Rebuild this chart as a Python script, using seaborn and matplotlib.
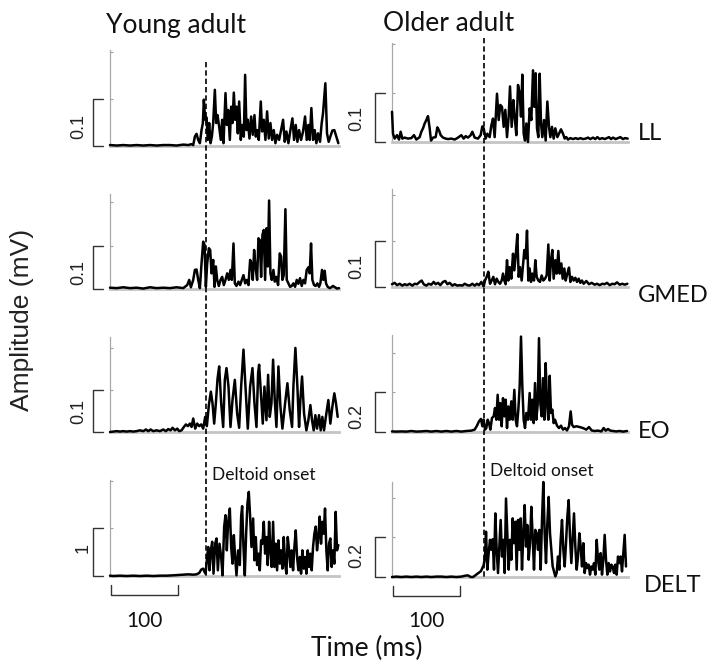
import matplotlib
matplotlib.use("Agg")
import matplotlib.pyplot as plt
import matplotlib.transforms as mtrans
from matplotlib.lines import Line2D
import pandas as pd
import seaborn as sns

# ---------------- data (time in ms, amplitude in mV) ----------------
groups = ["Young adult", "Older adult"]
muscles = ["LL", "GMED", "EO", "DELT"]
onset_ms = [143.5, 137.5]          # deltoid onset per group
time_bar_ms = 100
scale_values = [[0.1, 0.1], [0.1, 0.1], [0.1, 0.2], [1, 0.2]]
scale_labels = [["0.1", "0.1"], ["0.1", "0.1"], ["0.1", "0.2"], ["1", "0.2"]]
tick_step = [[0.1, 0.1], [0.1, 0.1], [0.1, 0.2], [1, 0.2]]
time_max = [344, 354]
amp_max = [[0.205, 0.203], [0.219, 0.212], [0.226, 0.49], [2.02, 0.478]]

young_LL = [(0,0.002),(10,0.001),(20,0.002),(30,0.001),(40,0.002),(50,0.001),(60,0.002),(70,0.001),(80,0.002),(90,0.002),(100,0.001),(110,0.003),(118,0.002),(122,0.004),(125,0.002),
    (127.5,0.020),(130,0.026),(132.5,0.013),(135,0.006),(137.5,0.034),(139.5,0.049),(141,0.099),(143,0.056),(145,0.061),(147,0.013),
    (149,0.049),(151,0.006),(153,0.020),(155,0.049),(157.5,0.120),(159.5,0.049),(161.5,0.066),(164,0.041),(166.5,0.013),(168.5,0.056),
    (170.5,0.006),(173.5,0.113),(175.5,0.045),(177.5,0.077),(180,0.013),(182,0.084),(184,0.049),(186,0.114),(188,0.056),(190,0.084),
    (192,0.027),(194,0.095),(196.5,0.013),(198.5,0.045),(201,0.020),(203,0.152),(205,0.034),(207,0.056),(209.5,0.016),(212,0.063),
    (214.5,0.024),(217,0.066),(219,0.020),(221,0.034),(223.5,0.013),(226.5,0.095),(228.5,0.031),(231,0.056),(233.5,0.013),(236,0.074),
    (238.5,0.016),(241,0.049),(243.5,0.013),(246,0.034),(248.5,0.006),(251,0.024),(254,0.013),(257,0.034),(260,0.056),(262.5,0.009),
    (265,0.031),(268,0.006),(271,0.034),(274,0.059),(276.5,0.013),(279,0.045),(281.5,0.009),(284,0.034),(287,0.013),(290,0.031),
    (293,0.063),(295.5,0.013),(298,0.045),(300,0.013),(302.5,0.081),(305,0.013),(307.5,0.034),(310,0.006),(312.5,0.027),(315.5,0.009),
    (318,0.049),(320,0.070),(323.5,0.134),(326,0.027),(328.5,0.009),(331,0.020),(334,0.033),(337,0.034),(340,0.020),(343,0.006)]

older_LL = [(0,0.062),(1.5,0.017),(4,0.007),(7.5,0.014),(10.5,0.005),(13,0.021),(15.5,0.007),(19,0.009),(24,0.007),(29,0.008),
    (33,0.014),(36.5,0.005),(41.5,0.010),(44,0.021),(46.5,0.028),(49,0.038),(51.5,0.045),(54,0.053),(56.5,0.028),(58.5,0.003),
    (61.5,0.009),(65.5,0.010),(68,0.030),(70.5,0.024),(73,0.014),(76.5,0.009),(80.5,0.007),(84,0.006),(89,0.007),(94,0.005),
    (99,0.009),(104,0.014),(107.5,0.007),(110.5,0.012),(114,0.009),(118,0.014),(120.5,0.021),(124,0.009),(129,0.007),(133,0.014),
    (135.5,0.032),(137.5,0.028),(140.5,0.007),(143,0.017),(146.5,0.010),(149,0.034),(151.5,0.048),(154,0.010),(157.5,0.099),(160,0.045),
    (162.5,0.076),(165,0.072),(167.5,0.031),(170,0.066),(172.5,0.010),(175,0.052),(177,0.114),(179.5,0.031),(182,0.086),(184,0.052),
    (186.5,0.014),(189,0.117),(191.5,0.100),(193.5,0.052),(195.5,0.138),(197.5,0.017),(199.5,0.003),(201.5,0.038),(204,0.0),(206.5,0.069),
    (209,0.045),(211.5,0.147),(213.5,0.072),(215.5,0.141),(217.5,0.028),(219.5,0.010),(221.5,0.140),(223.5,0.038),(225.5,0.010),(228,0.045),
    (230.5,0.003),(233,0.083),(235.5,0.031),(237.5,0.010),(240,0.031),(242.5,0.007),(245,0.028),(248,0.010),(250.5,0.017),(253.5,0.026),
    (256.5,0.017),(259,0.007),(261.5,0.010),(264,0.005),(267.5,0.008),(271.5,0.006),(275.5,0.008),(279,0.006),(282.5,0.008),(286.5,0.006),
    (290.5,0.007),(294,0.009),(297.5,0.006),(301.5,0.009),(305,0.006),(308,0.010),(311.5,0.006),(315.5,0.008),(319,0.006),(322.5,0.008),
    (325.5,0.010),(328.5,0.006),(331.5,0.009),(335.5,0.006),(339,0.008),(342.5,0.010),(346.5,0.006),(349.5,0.008),(353.5,0.007)]

young_GMED = [(0,0.003),(10,0.002),(20,0.004),(30,0.002),(40,0.003),(50,0.001),(60,0.004),(70,0.002),(80,0.003),(90,0.002),(100,0.004),(110,0.002),
    (112.5,0.005),(116,0.009),(119,0.021),(121.5,0.004),(125,0.021),(127.5,0.044),(130,0.045),(132.5,0.021),(135,0.002),(137.5,0.059),
    (140,0.109),(142,0.102),(144,0.005),(146,0.059),(148.5,0.094),(150.5,0.090),(152.5,0.036),(155,0.067),(157,0.005),(159,0.052),
    (161,0.021),(163.5,0.007),(166,0.021),(168.5,0.028),(171,0.009),(173.5,0.021),(176,0.036),(178.5,0.021),(181,0.044),(183,0.021),
    (185.5,0.105),(187.5,0.013),(190,0.007),(193,0.017),(195.5,0.009),(198,0.021),(200.5,0.032),(203,0.013),(205.5,0.021),(208,0.009),
    (210.5,0.067),(212.5,0.059),(214.5,0.021),(216.5,0.090),(218.5,0.052),(221,0.021),(223,0.117),(225,0.113),(227,0.028),(229,0.125),
    (231,0.136),(233,0.021),(235,0.140),(237,0.052),(239,0.204),(241,0.036),(243,0.021),(245.5,0.044),(247.5,0.017),(250,0.028),
    (252.5,0.009),(255,0.082),(257,0.075),(259,0.021),(261,0.032),(263.5,0.184),(265.5,0.021),(268,0.013),(270.5,0.005),(273,0.007),
    (275.5,0.013),(278,0.005),(280.5,0.021),(283,0.012),(285.5,0.025),(288,0.007),(290.5,0.021),(293,0.013),(295.5,0.044),(298,0.050),
    (300,0.036),(302,0.105),(304,0.021),(306.5,0.009),(309,0.007),(311.5,0.013),(314,0.005),(316,0.013),(318.5,0.044),(320.5,0.021),
    (322.5,0.042),(324.5,0.013),(327,0.005),(330,0.002),(332.5,0.004),(335,0.007),(338,0.004),(341,0.001),(344,0.002)]

older_GMED = [(0,0.006),(4,0.009),(7.5,0.004),(11.5,0.007),(15.5,0.003),(19,0.006),(22.5,0.004),(26.5,0.007),(30.5,0.003),(34,0.007),
    (37.5,0.006),(41.5,0.011),(44.5,0.014),(47.5,0.006),(51.5,0.003),(55,0.007),(59,0.005),(62.5,0.011),(65.5,0.006),(69,0.009),
    (72.5,0.004),(76.5,0.011),(80,0.013),(83,0.006),(86.5,0.009),(90.5,0.003),(94,0.006),(98,0.003),(101.5,0.004),(105.5,0.003),
    (109,0.007),(113,0.004),(116.5,0.003),(120.5,0.007),(124,0.003),(127.5,0.007),(130.5,0.004),(134,0.011),(137.5,0.001),(139.5,0.014),
    (142,0.022),(144.5,0.033),(147,0.007),(149.5,0.014),(152,0.022),(154.5,0.006),(157,0.018),(159.5,0.011),(162,0.007),(164.5,0.014),
    (166.5,0.029),(168.5,0.014),(170.5,0.006),(172.5,0.058),(174.5,0.014),(176.5,0.043),(179,0.018),(181.5,0.072),(183.5,0.036),(186,0.076),
    (188,0.114),(190,0.022),(192,0.043),(194.5,0.014),(196.5,0.047),(198.5,0.080),(200.5,0.062),(202.5,0.122),(204.5,0.014),(206.5,0.040),
    (208.5,0.011),(210.5,0.029),(213,0.014),(215,0.058),(217,0.022),(219.5,0.014),(222,0.011),(224.5,0.025),(227,0.014),(229.5,0.018),
    (232,0.025),(234.5,0.092),(236.5,0.014),(238.5,0.058),(240.5,0.080),(242.5,0.018),(245,0.058),(247,0.029),(249.5,0.078),(251.5,0.029),
    (254,0.051),(256,0.018),(258.5,0.040),(260.5,0.014),(263,0.029),(265.5,0.042),(267.5,0.011),(270,0.022),(272.5,0.014),(275,0.020),
    (277.5,0.011),(280,0.018),(282.5,0.009),(285,0.014),(287.5,0.007),(291.5,0.013),(295.5,0.006),(299.5,0.009),(304,0.005),(307.5,0.007),
    (311.5,0.004),(315.5,0.007),(319,0.006),(322.5,0.009),(326.5,0.004),(330.5,0.007),(334,0.006),(337.5,0.010),(341.5,0.005),(345.5,0.007),
    (349,0.005),(353,0.007)]

young_EO = [(0,0.0),(5,0.001),(10,0.002),(15,0.001),(20,0.002),(25,0.001),(30,0.002),(35,0.001),(40,0.002),(45,0.004),
    (50,0.002),(54,0.006),(57.5,0.002),(61,0.006),(65,0.002),(70,0.004),(75,0.002),(80,0.006),(84,0.002),(87.5,0.007),
    (91,0.004),(94,0.010),(97.5,0.004),(101,0.008),(104,0.002),(107.5,0.004),(111,0.012),(114,0.018),(117,0.014),(120,0.020),
    (122.5,0.012),(125,0.032),(128,0.008),(131,0.020),(134,0.014),(137,0.018),(140,0.008),(143,0.036),(145.5,0.014),(148.5,0.064),
    (151.5,0.096),(154,0.068),(156.5,0.020),(159,0.068),(161.5,0.126),(164,0.156),(167,0.068),(170,0.012),(172.5,0.124),(175,0.152),
    (178,0.108),(181,0.012),(184,0.076),(187.5,0.124),(191,0.044),(194,0.010),(197,0.108),(200.5,0.196),(203.5,0.108),(207,0.008),
    (210.5,0.108),(214,0.152),(217,0.068),(220,0.012),(222.5,0.140),(224,0.160),(227,0.084),(229.5,0.020),(232,0.108),(235,0.028),
    (237.5,0.136),(240,0.036),(242.5,0.068),(245,0.172),(247.5,0.076),(250,0.012),(253,0.156),(256,0.060),(259,0.008),(263,0.068),
    (266.5,0.116),(270,0.052),(273.5,0.012),(275.5,0.108),(278.5,0.200),(281.5,0.108),(284,0.012),(286,0.076),(288.5,0.132),(291.5,0.044),
    (295,0.004),(298,0.028),(301,0.064),(303.5,0.028),(306,0.004),(308.5,0.040),(311,0.008),(314,0.040),(316.5,0.004),(319,0.036),
    (321.5,0.004),(325,0.044),(328,0.076),(331,0.020),(334,0.060),(337,0.092),(339.5,0.068),(342,0.036)]

older_EO = [(0,0.003),(6.5,0.002),(14,0.003),(21.5,0.002),(29,0.005),(36.5,0.002),(44,0.003),(51.5,0.005),(59,0.002),(66.5,0.005),
    (74,0.002),(81.5,0.005),(89,0.002),(96.5,0.005),(104,0.002),(111.5,0.005),(119,0.007),(124,0.012),(127.5,0.032),(130.5,0.054),
    (133.5,0.066),(135.5,0.029),(137.5,0.062),(139.5,0.012),(141.5,0.020),(143.5,0.062),(145.5,0.045),(147.5,0.012),(150,0.071),(152.5,0.079),
    (154.5,0.121),(156.5,0.062),(158.5,0.188),(160.5,0.062),(162.5,0.146),(164.5,0.029),(166.5,0.171),(168.5,0.079),(170.5,0.163),(172.5,0.020),
    (174.5,0.129),(176.5,0.062),(179,0.155),(181,0.062),(183.5,0.213),(185.5,0.062),(187.5,0.029),(189.5,0.113),(191.5,0.230),(193.5,0.482),
    (195.5,0.230),(197.5,0.062),(199.5,0.020),(201.5,0.096),(204,0.062),(206.5,0.197),(208.5,0.062),(210.5,0.163),(212.5,0.045),(214.5,0.247),
    (216.5,0.062),(218.5,0.138),(220.5,0.474),(222.5,0.146),(224.5,0.079),(226.5,0.272),(228.5,0.062),(230.5,0.348),(232.5,0.146),(234.5,0.062),
    (236.5,0.284),(238.5,0.096),(240.5,0.113),(242.5,0.045),(244.5,0.062),(247.5,0.032),(250.5,0.020),(253.5,0.032),(256.5,0.012),(259.5,0.020),
    (262.5,0.008),(265.5,0.029),(268,0.104),(270,0.037),(272.5,0.025),(276.5,0.029),(281.5,0.025),(286.5,0.020),(291.5,0.012),(295.5,0.025),
    (299.5,0.008),(304,0.005),(309,0.007),(314,0.003),(317.5,0.020),(320.5,0.007),(324,0.015),(327.5,0.007),(331.5,0.005),(336.5,0.003),
    (341.5,0.005),(346.5,0.002),(352.5,0.005)]

young_DELT = [(0,0.007),(5,0.0),(15,0.007),(25,0.0),(35,0.007),(45,0.0),(55,0.007),(65,0.0),(75,0.007),(85,0.007),
    (95,0.014),(102.5,0.021),(110,0.028),(117.5,0.035),(125,0.028),(130,0.035),(134,0.063),(137,0.134),(140,0.155),(142,0.085),
    (143.5,0.049),(145.5,0.33),(147.5,0.61),(149.5,0.12),(151.5,0.54),(153.5,0.72),(155.5,0.049),(158,0.68),(160,0.79),(162,0.12),
    (164.5,0.68),(167,0.40),(169,0.014),(171.5,1.04),(173.5,1.28),(175.5,0.54),(177.5,1.14),(180,1.42),(182,0.61),(184,0.26),
    (186,0.86),(188,0.40),(190,0.014),(192.5,0.54),(195,0.23),(197,1.25),(198.5,1.47),(200.5,0.61),(202.5,0.014),(204.5,0.89),
    (206.5,1.53),(208.5,1.77),(210.5,1.25),(212.5,0.61),(215,1.21),(217,0.33),(219,0.82),(221,0.23),(223,0.47),(225,0.12),
    (227,0.75),(229,0.68),(231,1.14),(233,0.47),(235,0.82),(237,0.23),(239,1.14),(241,0.54),(243,0.19),(245,1.14),
    (247,0.19),(249,0.68),(251,0.12),(253,0.75),(255,0.26),(257,0.54),(259,0.155),(261,0.82),(263,0.26),(265,0.049),
    (267,0.82),(269,0.54),(271,0.19),(273,0.54),(275,0.12),(277,0.61),(279,0.96),(281,0.40),(283,0.12),(285,0.40),
    (287,0.049),(289,0.54),(291,0.155),(293,0.40),(295,0.049),(297,0.54),(299,0.19),(301,0.47),(303,0.12),(305,0.61),
    (307,0.89),(309,1.04),(311,0.54),(313,0.82),(315,1.25),(317,0.68),(319,1.14),(321,0.89),(323,1.42),(325,0.54),
    (327,0.12),(329,0.68),(331,0.79),(333,0.19),(335,0.54),(337,0.26),(339,1.35),(341,0.54),(343,0.65)]

older_DELT = [(0,0.0),(6.5,0.002),(14,0.0),(21.5,0.002),(29,0.0),(36.5,0.002),(44,0.0),(51.5,0.002),(59,0.0),(66.5,0.002),
    (74,0.002),(81.5,0.0),(89,0.002),(96.5,0.0),(104,0.002),(110.5,0.007),(114,0.008),(118,0.0),(121.5,0.0),(124.5,0.007),
    (127.5,0.015),(130.5,0.022),(133.5,0.030),(135.5,0.045),(137.5,0.060),(139.5,0.100),(141,0.228),(143,0.037),(145,0.120),(147,0.187),
    (149,0.137),(151,0.190),(153,0.037),(155,0.320),(157,0.137),(159,0.020),(161,0.153),(163,0.287),(165,0.103),(167,0.187),
    (169,0.020),(171,0.395),(173,0.220),(175,0.037),(177,0.187),(179,0.087),(181,0.295),(183,0.170),(185,0.278),(187,0.037),
    (189,0.287),(191,0.137),(193,0.295),(195,0.037),(197,0.220),(199,0.362),(201,0.153),(203,0.262),(205,0.087),(207,0.170),
    (209,0.353),(211,0.203),(213,0.037),(215,0.237),(217,0.220),(219,0.137),(221,0.237),(223,0.037),(225,0.287),(227,0.478),
    (229,0.220),(231,0.070),(233,0.270),(235,0.403),(237,0.220),(239,0.137),(241,0.053),(243,0.028),(245,0.003),(247,0.020),
    (249,0.103),(251,0.037),(253,0.187),(255,0.287),(257,0.137),(259,0.053),(261,0.170),(263,0.303),(265,0.387),(267,0.203),
    (269,0.070),(271,0.195),(273,0.320),(275,0.153),(277,0.037),(279,0.103),(281,0.220),(283,0.153),(285,0.053),(287,0.170),
    (289,0.020),(291,0.070),(293,0.045),(295,0.062),(297,0.012),(299,0.053),(301,0.037),(303,0.070),(305,0.012),(307,0.187),
    (309,0.087),(311,0.037),(313,0.120),(315,0.012),(317,0.087),(319,0.212),(321,0.087),(323,0.012),(325,0.070),(327,0.028),
    (329,0.062),(331,0.053),(333,0.020),(335,0.062),(337,0.012),(339,0.103),(341,0.070),(343,0.103),(345,0.028),(347,0.120),
    (349,0.212),(351,0.053)]

traces = [[young_LL, older_LL], [young_GMED, older_GMED], [young_EO, older_EO], [young_DELT, older_DELT]]

# ---------------- layout (pixels) ----------------
W, H = 716, 668
col_left = [110, 392]
col_right = [339, 628]
row_base = [[146, 142], [289, 287], [432, 432], [576, 577]]
row_top = [[50, 43], [194, 189], [337, 335], [480, 482]]
label_pos = [[0.42, 0.48], [0.37, 0.45], [0.48, 0.38], [0.58, 0.55]]
label_dx = [-31, -35]
muscle_y = [133.5, 296, 432, 586]

sns.set_theme(style="white")
plt.rcParams["font.family"] = ["Lato", "DejaVu Sans"]

fig = plt.figure(figsize=(W / 100, H / 100), dpi=100)

def fx(x):
    return x / W

def fy(y):
    return 1 - y / H

axes = {}
for r, muscle in enumerate(muscles):
    for c, grp in enumerate(groups):
        L, R = col_left[c], col_right[c]
        B, T = row_base[r][c], row_top[r][c]
        ax = fig.add_axes([fx(L), fy(B), (R - L) / W, (B - T) / H])
        axes[(r, c)] = ax
        df = pd.DataFrame(traces[r][c], columns=["time", "amp"])
        sns.lineplot(data=df, x="time", y="amp", ax=ax, color="black",
                     linewidth=1.8, estimator=None, sort=False)
        for ln in ax.lines:
            ln.set_clip_on(False)
            ln.set_zorder(3)
        ax.set_xlim(0, time_max[c])
        ax.set_ylim(0, amp_max[r][c])
        ax.set_xlabel("")
        ax.set_ylabel("")
        ax.set_xticks([])
        st = tick_step[r][c]
        ticks = [st * k for k in range(1, 6) if st * k <= amp_max[r][c] * 1.02]
        ax.set_yticks(ticks)
        ax.tick_params(axis="y", direction="in", length=2.5, width=0.8,
                       colors="#a0a0a0", labelleft=False, left=True)
        ax.patch.set_alpha(0)
        for s in ["top", "right"]:
            ax.spines[s].set_visible(False)
        ax.spines["left"].set_color("#a8a8a8")
        ax.spines["left"].set_linewidth(0.9)
        ax.spines["bottom"].set_color("#c4c4c4")
        ax.spines["bottom"].set_linewidth(2.0)
        ax.spines["bottom"].set_zorder(1)
        ax.spines["left"].set_zorder(1)

        # amplitude scale bracket
        wpx = R - L
        tr = mtrans.blended_transform_factory(ax.transAxes, ax.transData)
        sv = scale_values[r][c]
        x0, x1 = -17 / wpx, -7 / wpx
        ax.add_line(Line2D([x1, x0, x0, x1], [sv, sv, 0, 0], transform=tr,
                           color="#333333", lw=1.0, clip_on=False))
        dx = (-27 if scale_labels[r][c] == "1" else label_dx[c]) / wpx
        ax.text(dx, label_pos[r][c] * sv, scale_labels[r][c], transform=tr,
                rotation=90, ha="center", va="center", fontsize=13,
                family=["Liberation Sans", "DejaVu Sans"], color="#222222")

# dashed onset lines
dash_top = [62, 38]
dash_bottom = [row_base[3][0], row_base[3][1]]
for c in range(2):
    L, R = col_left[c], col_right[c]
    xo = L + onset_ms[c] / time_max[c] * (R - L)
    fig.add_artist(Line2D([fx(xo), fx(xo)], [fy(dash_top[c]), fy(dash_bottom[c])],
                          transform=fig.transFigure, color="black", lw=1.2,
                          linestyle=(0, (3.2, 1.8))))
    fig.text(fx(xo + 6), fy([475, 471][c]), "Deltoid onset", ha="left",
             va="center", fontsize=12.5, color="#111111")

# time scale bars
for c in range(2):
    ax = axes[(3, c)]
    hpx = row_base[3][c] - row_top[3][c]
    tr = mtrans.blended_transform_factory(ax.transData, ax.transAxes)
    ya, yb = -19 / hpx, -9 / hpx
    t0 = 2
    ax.add_line(Line2D([t0, t0, t0 + time_bar_ms, t0 + time_bar_ms], [yb, ya, ya, yb],
                       transform=tr, color="#333333", lw=1.0, clip_on=False))
    L, R = col_left[c], col_right[c]
    xc = L + (t0 + time_bar_ms / 2) / time_max[c] * (R - L)
    fig.text(fx(xc), fy(621), str(time_bar_ms), ha="center", va="center",
             fontsize=15, color="#111111")

# titles and labels
fig.text(fx(106), fy(33), groups[0], ha="left", va="baseline", fontsize=19, color="#111111")
fig.text(fx(383), fy(31), groups[1], ha="left", va="baseline", fontsize=19, color="#111111")
for r, m in enumerate(muscles):
    fig.text(fx(638 if m != "DELT" else 644), fy(muscle_y[r]), m, ha="left",
             va="center", fontsize=17, color="#111111")
fig.text(fx(22), fy(320), "Amplitude (mV)", rotation=90, ha="center", va="center",
         fontsize=19, family=["Liberation Sans", "DejaVu Sans"], color="#222222")
fig.text(fx(367), fy(648), "Time (ms)", ha="center", va="center", fontsize=19,
         color="#111111")

fig.savefig("out.png", dpi=100)
